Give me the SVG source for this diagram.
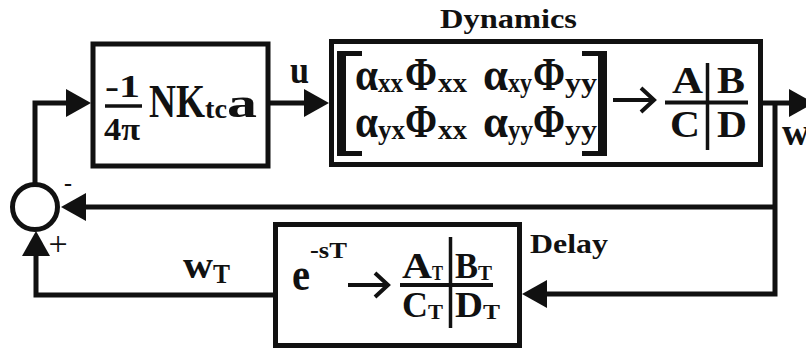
<svg xmlns="http://www.w3.org/2000/svg" width="806" height="349" viewBox="0 0 806 349">
<style>
.box{fill:none;stroke:#111;stroke-width:5}
.ln{fill:none;stroke:#111;stroke-width:5;stroke-linejoin:miter}
.thin{fill:none;stroke:#111;stroke-width:3.5}
.t{font-family:"Liberation Serif","Times New Roman",serif;font-weight:bold;fill:#111}
.r{font-family:"Liberation Serif","Times New Roman",serif;fill:#111}
</style>
<defs>
<marker id="ah" viewBox="0 0 25 28" refX="1" refY="14" markerWidth="25" markerHeight="28" markerUnits="userSpaceOnUse" orient="auto">
<path d="M0,0 L25,14 L0,28 Z" fill="#111"/>
</marker>
</defs>
<rect width="806" height="349" fill="#fff"/>

<g id="connectors">
<path class="ln" d="M35,185 V103 H67" marker-end="url(#ah)"/>
<path class="ln" d="M268,103 H305" marker-end="url(#ah)"/>
<path class="ln" d="M762,103 H790" marker-end="url(#ah)"/>
<path class="ln" d="M775,103 V294 H546" marker-end="url(#ah)"/>
<path class="ln" d="M775,207 H85" marker-end="url(#ah)"/>
<path class="ln" d="M274,295 H36 V255" marker-end="url(#ah)"/>
<text class="t" x="290" y="83" font-size="38" textLength="19" lengthAdjust="spacingAndGlyphs">u</text>
<text class="t" x="782" y="145" font-size="38">w</text>
<text class="t" x="183" y="278" font-size="38" textLength="30" lengthAdjust="spacingAndGlyphs">w</text>
<text class="t" x="213" y="283" font-size="27" textLength="17" lengthAdjust="spacingAndGlyphs">T</text>
<text class="t" x="68" y="191" font-size="24" text-anchor="middle">-</text>
<text class="r" x="58" y="255" font-size="34" text-anchor="middle">+</text>
</g>

<g id="sum">
<circle cx="35" cy="207" r="22.5" class="box"/>
</g>

<g id="gain">
<rect class="box" x="93" y="44" width="175" height="122"/>
<text class="t" x="105" y="97" font-size="32" textLength="35" lengthAdjust="spacingAndGlyphs">-1</text>
<line class="thin" x1="105" y1="106" x2="142" y2="106"/>
<text class="t" x="104" y="140" font-size="32" textLength="36" lengthAdjust="spacingAndGlyphs">4π</text>
<text class="t" x="149" y="117" font-size="46" textLength="56" lengthAdjust="spacingAndGlyphs">NK</text>
<text class="t" x="205" y="118" font-size="28" textLength="22" lengthAdjust="spacingAndGlyphs">tc</text>
<text class="t" x="227" y="117" font-size="42" textLength="30" lengthAdjust="spacingAndGlyphs">a</text>
</g>

<g id="dynamics">
<text class="t" x="440" y="28" font-size="27" textLength="137" lengthAdjust="spacingAndGlyphs">Dynamics</text>
<rect class="box" x="331.5" y="41.5" width="429" height="123"/>
<path d="M337,51 H362 V56 H346 V151 H362 V156 H337 Z" fill="#111"/>
<path d="M607,51 H582 V56 H598 V151 H582 V156 H607 Z" fill="#111"/>
<g font-size="47">
<text class="t" x="355" y="90" textLength="23" lengthAdjust="spacingAndGlyphs">α</text>
<text class="t" x="405" y="90" textLength="32" lengthAdjust="spacingAndGlyphs">Φ</text>
<text class="t" x="483" y="90" textLength="25" lengthAdjust="spacingAndGlyphs">α</text>
<text class="t" x="533" y="90" textLength="32" lengthAdjust="spacingAndGlyphs">Φ</text>
<text class="t" x="355" y="137" textLength="23" lengthAdjust="spacingAndGlyphs">α</text>
<text class="t" x="405" y="137" textLength="32" lengthAdjust="spacingAndGlyphs">Φ</text>
<text class="t" x="483" y="137" textLength="25" lengthAdjust="spacingAndGlyphs">α</text>
<text class="t" x="533" y="137" textLength="32" lengthAdjust="spacingAndGlyphs">Φ</text>
</g>
<g font-size="28">
<text class="t" x="378" y="92" textLength="25" lengthAdjust="spacingAndGlyphs">xx</text>
<text class="t" x="438" y="92" textLength="29" lengthAdjust="spacingAndGlyphs">xx</text>
<text class="t" x="508" y="92" textLength="24" lengthAdjust="spacingAndGlyphs">xy</text>
<text class="t" x="565" y="92" textLength="32" lengthAdjust="spacingAndGlyphs">yy</text>
<text class="t" x="378" y="139" textLength="27" lengthAdjust="spacingAndGlyphs">yx</text>
<text class="t" x="438" y="139" textLength="29" lengthAdjust="spacingAndGlyphs">xx</text>
<text class="t" x="508" y="139" textLength="25" lengthAdjust="spacingAndGlyphs">yy</text>
<text class="t" x="565" y="139" textLength="32" lengthAdjust="spacingAndGlyphs">yy</text>
</g>
<line x1="613" y1="100" x2="652" y2="100" stroke="#111" stroke-width="4"/>
<polyline points="641,88 654,100 641,112" fill="none" stroke="#111" stroke-width="4"/>
<line x1="665" y1="102.5" x2="748" y2="102.5" stroke="#111" stroke-width="4"/>
<line x1="707.5" y1="63" x2="707.5" y2="150" stroke="#111" stroke-width="3.5"/>
<text class="t" x="672" y="93" font-size="38" textLength="31" lengthAdjust="spacingAndGlyphs">A</text>
<text class="t" x="717" y="93" font-size="38" textLength="28" lengthAdjust="spacingAndGlyphs">B</text>
<text class="t" x="670" y="137" font-size="38" textLength="30" lengthAdjust="spacingAndGlyphs">C</text>
<text class="t" x="717" y="137" font-size="38" textLength="30" lengthAdjust="spacingAndGlyphs">D</text>
</g>

<g id="delay">
<rect class="box" x="275.5" y="224.5" width="244" height="121"/>
<text class="t" x="530" y="253" font-size="27" textLength="78" lengthAdjust="spacingAndGlyphs">Delay</text>
<text class="t" x="292" y="290" font-size="46" textLength="18" lengthAdjust="spacingAndGlyphs">e</text>
<text class="t" x="310" y="258" font-size="24" textLength="37" lengthAdjust="spacingAndGlyphs">-sT</text>
<line x1="348" y1="285" x2="386" y2="285" stroke="#111" stroke-width="4"/>
<polyline points="375,273 388,285 375,297" fill="none" stroke="#111" stroke-width="4"/>
<line x1="400" y1="285" x2="493" y2="285" stroke="#111" stroke-width="4"/>
<line x1="450.5" y1="237" x2="450.5" y2="328" stroke="#111" stroke-width="3.5"/>
<text class="t" x="402" y="278" font-size="35" textLength="30" lengthAdjust="spacingAndGlyphs">A</text>
<text class="t" x="432" y="280" font-size="20" textLength="11" lengthAdjust="spacingAndGlyphs">T</text>
<text class="t" x="455" y="278" font-size="35" textLength="23" lengthAdjust="spacingAndGlyphs">B</text>
<text class="t" x="478" y="280" font-size="20" textLength="14" lengthAdjust="spacingAndGlyphs">T</text>
<text class="t" x="402" y="317" font-size="35" textLength="26" lengthAdjust="spacingAndGlyphs">C</text>
<text class="t" x="428" y="319" font-size="20" textLength="15" lengthAdjust="spacingAndGlyphs">T</text>
<text class="t" x="455" y="317" font-size="35" textLength="28" lengthAdjust="spacingAndGlyphs">D</text>
<text class="t" x="483" y="319" font-size="20" textLength="17" lengthAdjust="spacingAndGlyphs">T</text>
</g>
</svg>
